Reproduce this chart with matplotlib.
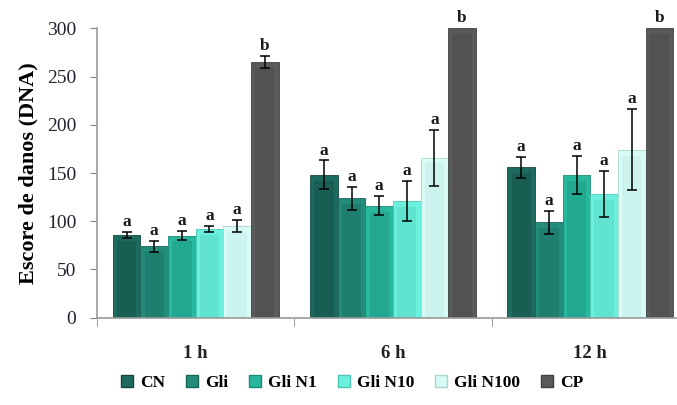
import matplotlib
matplotlib.use("Agg")
import matplotlib.pyplot as plt
import numpy as np
from matplotlib.patches import Patch

categories = ["1 h", "6 h", "12 h"]
series = ["CN", "Gli", "Gli N1", "Gli N10", "Gli N100", "CP"]
values = {
    "CN":       [86, 148, 156],
    "Gli":      [74, 124, 99],
    "Gli N1":   [85, 116, 148],
    "Gli N10":  [92, 121, 128],
    "Gli N100": [95, 166, 174],
    "CP":       [265, 300, 300],
}
errors = {
    "CN":       [3, 15, 11],
    "Gli":      [6, 12, 12],
    "Gli N1":   [4.5, 10, 20],
    "Gli N10":  [3.5, 21, 24],
    "Gli N100": [6, 29, 42],
    "CP":       [6, 0, 0],
}
letters = {
    "CN":       ["a", "a", "a"],
    "Gli":      ["a", "a", "a"],
    "Gli N1":   ["a", "a", "a"],
    "Gli N10":  ["a", "a", "a"],
    "Gli N100": ["a", "a", "a"],
    "CP":       ["b", "b", "b"],
}
yticks = [0, 50, 100, 150, 200, 250, 300]

colors = ["#1d6b5e", "#238c7a", "#27b89e", "#6af0dc", "#d9fbf6", "#5a5a5a"]
inner = ["#185e52", "#1f7f6e", "#23a890", "#60e4cf", "#cdf3ee", "#525252"]
edges = ["#14463d", "#1a6458", "#1c8a76", "#4cc8b4", "#a9d6cf", "#404040"]

serif = ["Liberation Serif", "DejaVu Serif"]
plt.rcParams["font.family"] = serif

fig = plt.figure(figsize=(6.77, 4.05), dpi=100)
ax = fig.add_axes([97 / 677, 87.3 / 405, (689 - 97) / 677, 289.4 / 405])

x = np.arange(len(categories))
bw = 0.14
n = len(series)
for i, s in enumerate(series):
    pos = x - bw * n / 2 + bw * (i + 0.5)
    v = np.array(values[s], dtype=float)
    e = np.array(errors[s], dtype=float)
    ax.bar(pos, v, width=bw, color=colors[i], edgecolor=edges[i], linewidth=0.6, zorder=2)
    ax.bar(pos, v - 6, width=bw * 0.7, color=inner[i], linewidth=0, zorder=2.1)
    mask = e > 0
    ax.errorbar(pos[mask], v[mask], yerr=e[mask], fmt="none", ecolor="black",
                elinewidth=1.1, capsize=3.5, capthick=1.1, zorder=3)
    for j in range(len(categories)):
        top = min(v[j] + e[j], 300)
        ax.text(pos[j], top + 2, letters[s][j], ha="center", va="bottom",
                fontsize=12.5, fontweight="semibold", color="#1a1a1a", zorder=4, clip_on=False)

ax.set_xlim(-0.5, len(categories) - 0.5)
ax.set_ylim(0, 300)
ax.set_yticks(yticks)
ax.set_yticklabels([str(t) for t in yticks], fontsize=14, color="#222233")
ax.set_xticks(x)
ax.set_xticklabels(categories, fontsize=13.5, fontweight="bold", color="#222222")
ax.tick_params(axis="x", length=0, pad=20)
ax.set_xticks(np.arange(len(categories) + 1) - 0.5, minor=True)
ax.tick_params(axis="x", which="minor", length=6, color="#888888", direction="out")
ax.tick_params(axis="y", length=5, color="#888888", direction="out", pad=10)
for sp in ["top", "right"]:
    ax.spines[sp].set_visible(False)
for sp in ["left", "bottom"]:
    ax.spines[sp].set_color("#999999")
    ax.spines[sp].set_linewidth(1.2)

ax.set_ylabel("Escore de danos (DNA)", fontsize=16, fontweight="bold", labelpad=6)

handles = [Patch(facecolor=colors[i], edgecolor=edges[i]) for i in range(n)]
fig.legend(handles, series, loc="center", bbox_to_anchor=(0.52, 0.054), ncol=n,
           frameon=False, prop={"family": serif, "weight": "bold", "size": 12.5},
           handlelength=0.7, handleheight=0.7, handletextpad=0.4, columnspacing=1.2)

fig.savefig("out.png", dpi=100)
